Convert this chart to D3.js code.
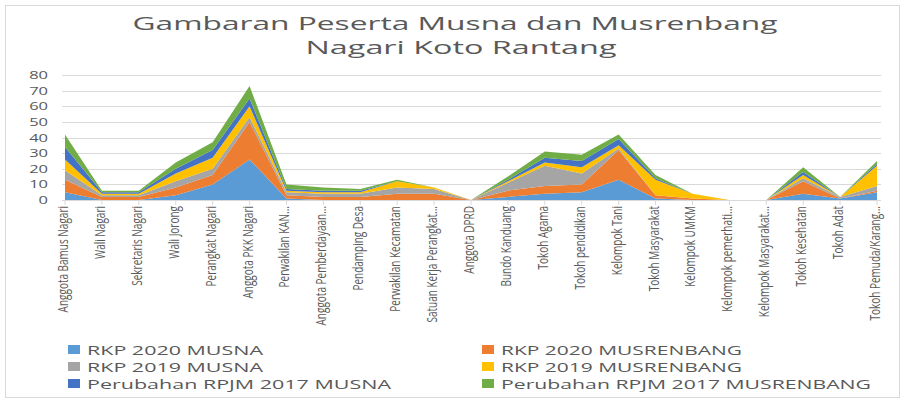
<!DOCTYPE html>
<html>
<head>
<meta charset="utf-8">
<script src="https://cdn.jsdelivr.net/npm/d3@7"></script>
<style>
  body { margin: 0; background: #fff; }
  text { font-family: "Open Sans", "Liberation Sans", sans-serif; fill: #595959; }
</style>
</head>
<body>
<div id="chart"></div>
<script>
// categories (peserta)
const categories = [
  "Anggota Bamus Nagari", "Wali Nagari", "Sekretaris Nagari", "Wali Jorong",
  "Perangkat Nagari", "Anggota PKK Nagari", "Perwakilan KAN...",
  "Anggota Pemberdayaan...", "Pendamping Desa", "Perwakilan Kecamatan",
  "Satuan Kerja Perangkat...", "Anggota DPRD", "Bundo Kanduang", "Tokoh Agama",
  "Tokoh pendidikan", "Kelompok Tani", "Tokoh Masyarakat", "Kelompok UMKM",
  "Kelompok pemerhati...", "Kelompok Masyarakat...", "Tokoh Kesehatan",
  "Tokoh Adat", "Tokoh Pemuda/Karang..."
];

// series values, same order as categories
const rkp2020Musna      = [5, 0, 0, 3, 10, 26, 1, 0, 0, 0, 0, 0, 2, 4, 5, 13, 1, 0, 0, 0, 4, 1, 5];
const rkp2020Musrenbang = [8, 2, 2, 5, 6, 24, 2, 2, 2, 4, 4, 0, 4, 5, 5, 19, 2, 1, 0, 0, 8, 0, 1];
const rkp2019Musna      = [6, 1, 1, 4, 4, 3, 2, 2, 2, 4, 3, 0, 5, 13, 7, 1, 0, 0, 0, 0, 2, 1, 3];
const rkp2019Musrenbang = [7, 1, 1, 5, 7, 7, 1, 1, 1, 4, 1, 0, 1, 2, 4, 2, 10, 3, 0, 0, 2, 0, 13];
const rpjm2017Musna     = [8, 1, 1, 3, 5, 5, 1, 1, 1, 0, 0, 0, 1, 3, 4, 4, 1, 0, 0, 0, 2, 0, 1];
const rpjm2017Musrenbang= [8, 1, 1, 4, 5, 8, 3, 2, 1, 1, 0, 0, 2, 4, 4, 3, 2, 0, 0, 0, 3, 0, 2];

const seriesNames = [
  "RKP 2020 MUSNA", "RKP 2020 MUSRENBANG", "RKP 2019 MUSNA",
  "RKP 2019 MUSRENBANG", "Perubahan RPJM 2017 MUSNA", "Perubahan RPJM 2017 MUSRENBANG"
];
const seriesValues = [rkp2020Musna, rkp2020Musrenbang, rkp2019Musna,
  rkp2019Musrenbang, rpjm2017Musna, rpjm2017Musrenbang];
const colors = ["#5B9BD5", "#ED7D31", "#A5A5A5", "#FFC000", "#4472C4", "#70AD47"];
const yTicks = [0, 10, 20, 30, 40, 50, 60, 70, 80];

const width = 905, height = 403;
const sx = 1.5; // the picture is stretched sideways

const svg = d3.select("#chart").append("svg")
  .attr("width", width)
  .attr("height", height);

// chart border
svg.append("rect")
  .attr("x", 5.5).attr("y", 5.5)
  .attr("width", 894).attr("height", 392)
  .attr("fill", "#fff")
  .attr("stroke", "#d9d9d9");

// title
svg.append("text")
  .attr("x", 455).attr("y", 30)
  .attr("text-anchor", "middle")
  .attr("font-size", 18)
  .attr("textLength", 645).attr("lengthAdjust", "spacingAndGlyphs")
  .text("Gambaran Peserta Musna dan Musrenbang");
svg.append("text")
  .attr("x", 461).attr("y", 54)
  .attr("text-anchor", "middle")
  .attr("font-size", 18)
  .attr("textLength", 311).attr("lengthAdjust", "spacingAndGlyphs")
  .text("Nagari Koto Rantang");

// scales
const x = d3.scalePoint().domain(categories).range([65, 877]);
const y = d3.scaleLinear().domain([0, 80]).range([200, 75]);

// gridlines
svg.append("g")
  .selectAll("line")
  .data(yTicks.slice(1))
  .join("line")
  .attr("x1", 62).attr("x2", 881)
  .attr("y1", d => Math.round(y(d)) + 0.5)
  .attr("y2", d => Math.round(y(d)) + 0.5)
  .attr("stroke", "#d9d9d9");

// y tick labels
svg.append("g")
  .selectAll("text")
  .data(yTicks)
  .join("text")
  .attr("transform", d => `translate(48,${y(d) + 4}) scale(${sx},1)`)
  .attr("text-anchor", "end")
  .attr("font-size", 11)
  .text(d => d);

// stacked areas
const rows = categories.map((c, i) => {
  const r = { cat: c };
  seriesNames.forEach((s, k) => r[s] = seriesValues[k][i]);
  return r;
});
const stack = d3.stack().keys(seriesNames)(rows);

const area = d3.area()
  .x(d => x(d.data.cat))
  .y0(d => y(d[0]))
  .y1(d => y(d[1]));

svg.append("g")
  .selectAll("path")
  .data(stack)
  .join("path")
  .attr("d", area)
  .attr("fill", (d, i) => colors[i]);

// category axis
svg.append("line")
  .attr("x1", 62).attr("x2", 881)
  .attr("y1", 200.5).attr("y2", 200.5)
  .attr("stroke", "#d9d9d9");

svg.append("g")
  .selectAll("line")
  .data(categories)
  .join("line")
  .attr("x1", d => x(d)).attr("x2", d => x(d))
  .attr("y1", 200).attr("y2", 205)
  .attr("stroke", "#d9d9d9");

svg.append("g")
  .selectAll("text")
  .data(categories)
  .join("text")
  .attr("transform", d => `translate(${x(d) + 3},206) scale(${sx},1) rotate(-90)`)
  .attr("text-anchor", "end")
  .attr("font-size", 10)
  .text(d => d);

// legend
const legendPos = [
  { x: 68, y: 350, w: 176 }, { x: 482, y: 350, w: 241 },
  { x: 68, y: 367, w: 176 }, { x: 482, y: 367, w: 241 },
  { x: 68, y: 384, w: 304 }, { x: 482, y: 384, w: 370 }
];

const legend = svg.append("g")
  .selectAll("g")
  .data(seriesNames)
  .join("g")
  .attr("transform", (d, i) => `translate(${legendPos[i].x},${legendPos[i].y})`);

legend.append("rect")
  .attr("x", 0).attr("y", -5)
  .attr("width", 12).attr("height", 9)
  .attr("fill", (d, i) => colors[i]);

legend.append("text")
  .attr("x", 19).attr("y", 5)
  .attr("font-size", 12)
  .attr("textLength", (d, i) => legendPos[i].w)
  .attr("lengthAdjust", "spacingAndGlyphs")
  .text(d => d);
</script>
</body>
</html>
